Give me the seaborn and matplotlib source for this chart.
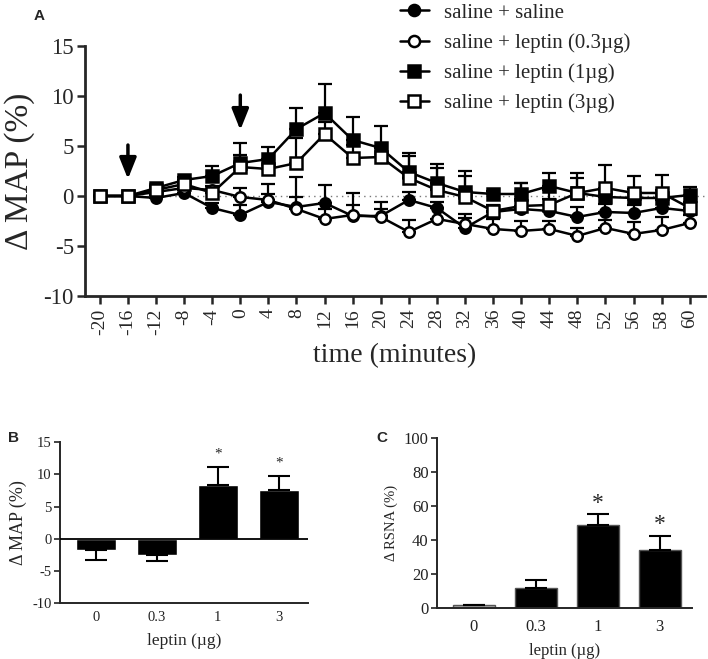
import numpy as np
import pandas as pd
import matplotlib
matplotlib.use("Agg")
import matplotlib.pyplot as plt
from matplotlib.lines import Line2D
import seaborn as sns

# ---- data ----
times = [-20, -16, -12, -8, -4, 0, 4, 8, 12, 16, 20, 24, 28, 32, 36, 40, 44, 48, 52, 56, 58, 60]

sal_sal = [0, 0, -0.2, 0.3, -1.2, -1.9, -0.6, -1.1, -0.7, -2.0, -2.0, -0.4, -1.2, -3.2, -1.6, -1.3, -1.5, -2.1, -1.6, -1.7, -1.2, -1.5]
lep_03 = [0, 0, 0.4, 0.8, 0.6, -0.1, -0.4, -1.3, -2.3, -1.9, -2.1, -3.6, -2.3, -2.8, -3.3, -3.5, -3.3, -4.0, -3.2, -3.8, -3.4, -2.7]
lep_1 = [0, 0, 0.8, 1.6, 2.0, 3.3, 3.7, 6.7, 8.3, 5.6, 4.8, 2.4, 1.3, 0.4, 0.2, 0.2, 1.0, 0.3, -0.1, -0.2, -0.2, 0.1]
lep_3 = [0, 0, 0.6, 1.2, 0.3, 2.9, 2.7, 3.3, 6.2, 3.8, 3.9, 1.8, 0.6, -0.1, -1.5, -1.0, -0.9, 0.3, 0.8, 0.3, 0.3, -1.2]

err_sal = [0, 0, 0.3, 0.3, 0.5, 1.0, 0.8, 3.0, 1.8, 2.3, 1.4, 0.8, 0.6, 1.0, 0.6, 1.0, 1.2, 1.0, 0.8, 0.8, 0.8, 0.6]
err_03 = [0, 0, 0.3, 0.3, 0.4, 0.9, 1.6, 1.2, 1.0, 1.0, 0.8, 1.2, 1.1, 1.0, 1.0, 1.0, 0.8, 0.8, 0.8, 1.2, 1.3, 0.8]
err_1 = [0, 0, 0.2, 0.3, 1.0, 2.0, 1.2, 2.1, 2.9, 2.3, 2.2, 1.9, 1.9, 2.1, 0.3, 1.1, 1.3, 2.0, 0.7, 0.9, 0.8, 0.8]
err_3 = [0, 0, 0.2, 0.3, 0.4, 1.2, 0.9, 2.5, 1.2, 1.3, 1.0, 2.2, 2.2, 2.1, 0.6, 2.3, 1.5, 1.5, 2.3, 1.7, 1.8, 0.6]

series_labels = ["saline + saline", "saline + leptin (0.3\u00b5g)",
                 "saline + leptin (1\u00b5g)", "saline + leptin (3\u00b5g)"]

doses = ["0", "0.3", "1", "3"]
map_mean = [-1.7, -2.6, 8.3, 7.5]
map_err = [1.6, 0.9, 2.9, 2.2]
rsna_mean = [1.5, 12.0, 49.0, 34.0]
rsna_err = [0.3, 4.5, 6.0, 8.5]

# ---- style ----
sns.set_style("ticks")
plt.rcParams['font.family'] = ['Liberation Serif', 'DejaVu Serif']
plt.rcParams['axes.unicode_minus'] = False

fig = plt.figure(figsize=(7.08, 6.59), dpi=100)

# ---------------- panel A ----------------
ax = fig.add_axes([0.120, 0.551, 0.876, 0.379])

tlabels = [str(t) for t in times]
styles = [
    (sal_sal, err_sal, 'o', 'black'),
    (lep_03, err_03, 'o', 'white'),
    (lep_1, err_1, 's', 'black'),
    (lep_3, err_3, 's', 'white'),
]
pos = np.arange(len(times))
for vals, err, mk, fc in styles:
    ax.errorbar(pos, vals, yerr=[np.zeros(len(err)), err], fmt='none',
                ecolor='black', elinewidth=1.6, capsize=5, capthick=1.6, zorder=2)
for (vals, err, mk, fc), lab in zip(styles, series_labels):
    df = pd.DataFrame({"time": tlabels, "val": vals})
    sns.lineplot(data=df, x="time", y="val", ax=ax, color='black', lw=1.8,
                 marker=mk, markersize=8 if mk == 's' else 7.5,
                 markerfacecolor=fc, markeredgecolor='black',
                 markeredgewidth=1.8, sort=False, zorder=3)

ax.axhline(0, xmin=0.02, color='#777777', lw=1, ls=(0, (1, 3)), zorder=1)

# arrows marking the injections
for t, y0, y1 in [(-16, 5.1, 1.7), (0, 10.1, 6.6)]:
    i = times.index(t)
    ax.annotate('', xy=(i, y1), xytext=(i, y0),
                arrowprops=dict(arrowstyle='-|>,head_width=0.3,head_length=0.75',
                                lw=2.5, color='black', mutation_scale=17,
                                shrinkA=0, shrinkB=0))

ax.set_xlim(-0.53, len(times) - 0.45)
ax.set_ylim(-10, 15)
ax.set_yticks([-10, -5, 0, 5, 10, 15])
ax.set_xticks(pos)
ax.set_xticklabels(tlabels, rotation=90, fontsize=14)
ax.tick_params(axis='y', labelsize=16.5, width=1.8, length=6, pad=2)
ax.tick_params(axis='x', width=1.8, length=6, pad=3)
for s in ['left', 'bottom']:
    ax.spines[s].set_linewidth(2)
sns.despine(ax=ax)
ax.set_xlabel("time (minutes)", fontsize=20, labelpad=6)
ax.set_ylabel("\u0394 MAP (%)", fontsize=24, labelpad=6)

handles = [Line2D([], [], color='black', lw=1.8, marker=mk, markersize=8,
                  markerfacecolor=fc, markeredgecolor='black', markeredgewidth=1.8)
           for _, _, mk, fc in styles]
fig.legend(handles, series_labels, loc='upper left', bbox_to_anchor=(0.553, 1.008),
           frameon=False, fontsize=15, handlelength=1.4, handletextpad=0.7,
           labelspacing=0.5, borderaxespad=0)

# ---------------- panel B ----------------
axb = fig.add_axes([0.0847, 0.085, 0.350, 0.244])
dfb = pd.DataFrame({"dose": doses, "val": map_mean})
sns.barplot(data=dfb, x="dose", y="val", color='black', width=0.66,
            errorbar=None, ax=axb, zorder=2)
down = [e if m < 0 else 0 for m, e in zip(map_mean, map_err)]
up = [e if m >= 0 else 0 for m, e in zip(map_mean, map_err)]
axb.errorbar(np.arange(len(doses)), map_mean, yerr=[down, up], fmt='none',
             ecolor='black', elinewidth=1.5, capsize=8, capthick=1.5, zorder=3)
axb.axhline(0, color='black', lw=1.3, zorder=3)
for i, (m, e) in enumerate(zip(map_mean, map_err)):
    if i >= 2:
        axb.text(i, m + e + 1.0, "*", ha='center', va='bottom', fontsize=11)
axb.set_ylim(-10, 15)
axb.set_xlim(-0.6, 3.48)
axb.set_yticks([-10, -5, 0, 5, 10, 15])
axb.tick_params(axis='both', labelsize=10.5, width=1.2, length=4, pad=2, colors='#222222')
axb.tick_params(axis='x', length=0, pad=6)
for s in ['left', 'bottom']:
    axb.spines[s].set_linewidth(1.4)
sns.despine(ax=axb)
axb.set_xlabel("leptin (\u00b5g)", fontsize=12.5, labelpad=6)
axb.set_ylabel("\u0394 MAP (%)", fontsize=13, labelpad=4)

# ---------------- panel C ----------------
axc = fig.add_axes([0.617, 0.0774, 0.360, 0.258])
dfc = pd.DataFrame({"dose": doses, "val": rsna_mean})
sns.barplot(data=dfc, x="dose", y="val", hue="dose", legend=False,
            palette=['#a8a8a8', 'black', 'black', 'black'], width=0.68,
            edgecolor='#555555', linewidth=1.0,
            errorbar=None, ax=axc, zorder=2)
axc.errorbar(np.arange(len(doses)), rsna_mean, yerr=[np.zeros(4), rsna_err], fmt='none',
             ecolor='black', elinewidth=1.5, capsize=8, capthick=1.5, zorder=3)
for i, (m, e) in enumerate(zip(rsna_mean, rsna_err)):
    if i >= 2:
        axc.text(i, m + e + 0.5, "*", ha='center', va='bottom', fontsize=17)
axc.set_ylim(0, 100)
axc.set_xlim(-0.6, 3.52)
axc.set_yticks([0, 20, 40, 60, 80, 100])
axc.tick_params(axis='both', labelsize=12, width=1.2, length=4, pad=2, colors='#222222')
axc.tick_params(axis='x', length=0, pad=8)
for s in ['left', 'bottom']:
    axc.spines[s].set_linewidth(1.4)
sns.despine(ax=axc)
axc.set_xlabel("leptin (\u00b5g)", fontsize=12, labelpad=6)
axc.set_ylabel("\u0394 RSNA (%)", fontsize=10.5, labelpad=4)

# panel letters
for lab, x, y in [("A", 0.048, 0.975), ("B", 0.012, 0.335), ("C", 0.532, 0.335)]:
    fig.text(x, y, lab, fontsize=11, fontweight='bold', family='Liberation Sans',
             ha='left', va='center')

fig.savefig("out.png", dpi=100)
